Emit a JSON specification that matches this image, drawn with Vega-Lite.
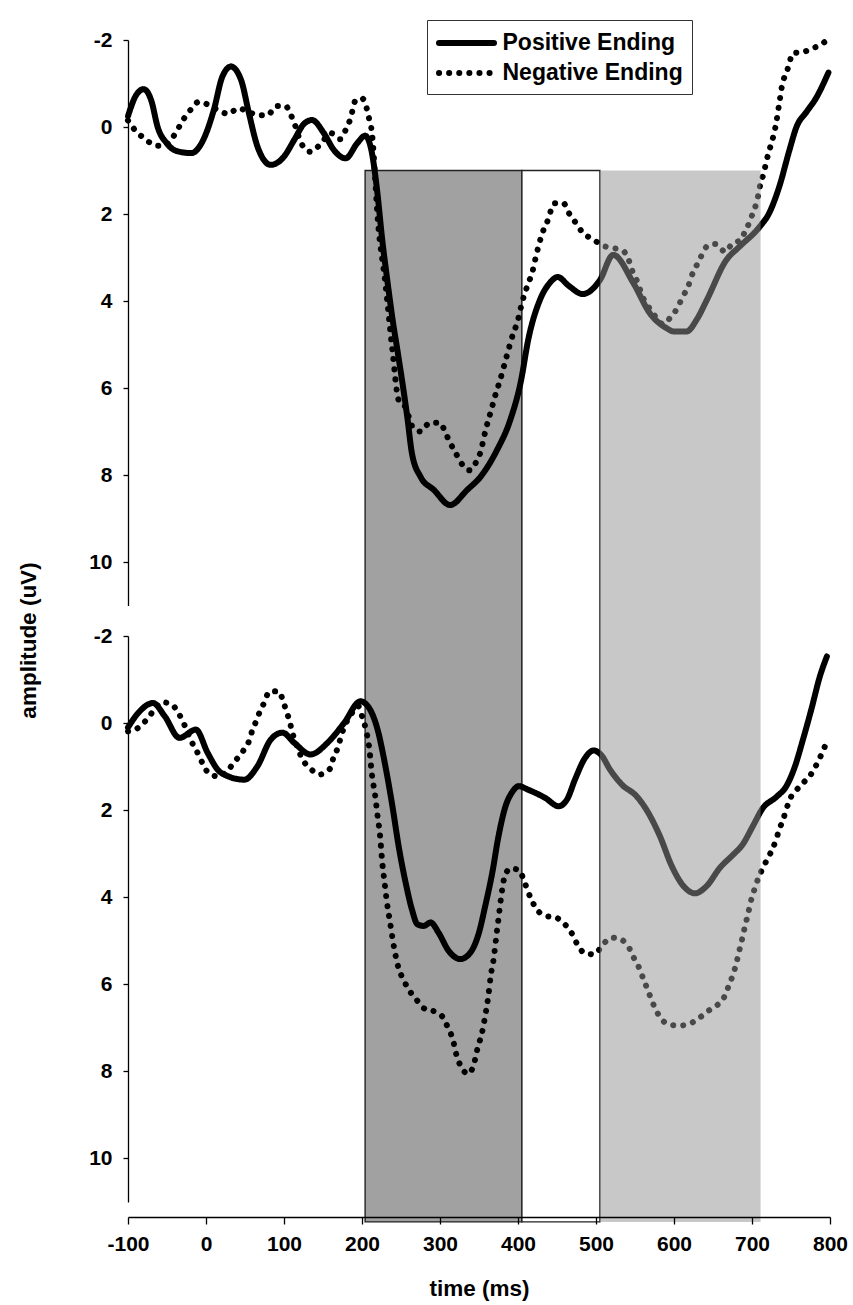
{
"$schema": "https://vega.github.io/schema/vega-lite/v6.json",
"width": 702,
"height": 1177,
"autosize": {"type": "none"},
"padding": {"left": 128, "top": 40, "right": 23, "bottom": 88},
"background": "white",
"config": {
  "view": {"stroke": null},
  "font": "Liberation Sans",
  "axis": {"domainColor": "black", "tickColor": "black", "labelColor": "black", "titleColor": "black", "labelFont": "Liberation Sans", "labelFontWeight": "bold", "labelFontSize": 21, "titleFont": "Liberation Sans", "titleFontWeight": "bold", "titleFontSize": 22.5, "grid": false, "domainWidth": 1.3, "tickWidth": 1.3, "labelExpr": "'' + datum.value"}
},
"datasets": {
  "windows": [
    {"window": "early", "start": 204, "end": 405, "top": 1, "bottom": 25.17},
    {"window": "middle", "start": 405, "end": 505, "top": 1, "bottom": 25.17},
    {"window": "late", "start": 505, "end": 711, "top": 1, "bottom": 25.17}
  ],
  "erp": [
    {"panel":"top","series":"Positive Ending","t":-100,"v":-0.25},
    {"panel":"top","series":"Positive Ending","t":-90,"v":-0.72},
    {"panel":"top","series":"Positive Ending","t":-80,"v":-0.87},
    {"panel":"top","series":"Positive Ending","t":-70,"v":-0.6},
    {"panel":"top","series":"Positive Ending","t":-62,"v":0.0},
    {"panel":"top","series":"Positive Ending","t":-50,"v":0.38},
    {"panel":"top","series":"Positive Ending","t":-38,"v":0.55},
    {"panel":"top","series":"Positive Ending","t":-19,"v":0.6},
    {"panel":"top","series":"Positive Ending","t":-5,"v":0.35},
    {"panel":"top","series":"Positive Ending","t":10,"v":-0.39},
    {"panel":"top","series":"Positive Ending","t":21,"v":-1.16},
    {"panel":"top","series":"Positive Ending","t":32,"v":-1.39},
    {"panel":"top","series":"Positive Ending","t":45,"v":-1.08},
    {"panel":"top","series":"Positive Ending","t":55,"v":-0.32},
    {"panel":"top","series":"Positive Ending","t":66,"v":0.45},
    {"panel":"top","series":"Positive Ending","t":83,"v":0.87},
    {"panel":"top","series":"Positive Ending","t":100,"v":0.68},
    {"panel":"top","series":"Positive Ending","t":113,"v":0.3},
    {"panel":"top","series":"Positive Ending","t":126,"v":-0.08},
    {"panel":"top","series":"Positive Ending","t":136,"v":-0.16},
    {"panel":"top","series":"Positive Ending","t":151,"v":0.14},
    {"panel":"top","series":"Positive Ending","t":164,"v":0.53},
    {"panel":"top","series":"Positive Ending","t":179,"v":0.72},
    {"panel":"top","series":"Positive Ending","t":194,"v":0.37},
    {"panel":"top","series":"Positive Ending","t":204,"v":0.2},
    {"panel":"top","series":"Positive Ending","t":212,"v":0.53},
    {"panel":"top","series":"Positive Ending","t":219,"v":1.4},
    {"panel":"top","series":"Positive Ending","t":226,"v":2.6},
    {"panel":"top","series":"Positive Ending","t":233,"v":3.6},
    {"panel":"top","series":"Positive Ending","t":239,"v":4.4},
    {"panel":"top","series":"Positive Ending","t":246,"v":5.2},
    {"panel":"top","series":"Positive Ending","t":252,"v":5.9},
    {"panel":"top","series":"Positive Ending","t":258,"v":6.66},
    {"panel":"top","series":"Positive Ending","t":264,"v":7.5},
    {"panel":"top","series":"Positive Ending","t":275,"v":8.04},
    {"panel":"top","series":"Positive Ending","t":292,"v":8.34},
    {"panel":"top","series":"Positive Ending","t":313,"v":8.69},
    {"panel":"top","series":"Positive Ending","t":335,"v":8.34},
    {"panel":"top","series":"Positive Ending","t":352,"v":8.04},
    {"panel":"top","series":"Positive Ending","t":373,"v":7.43},
    {"panel":"top","series":"Positive Ending","t":390,"v":6.74},
    {"panel":"top","series":"Positive Ending","t":404,"v":5.82},
    {"panel":"top","series":"Positive Ending","t":413,"v":4.9},
    {"panel":"top","series":"Positive Ending","t":428,"v":3.98},
    {"panel":"top","series":"Positive Ending","t":440,"v":3.6},
    {"panel":"top","series":"Positive Ending","t":451,"v":3.45},
    {"panel":"top","series":"Positive Ending","t":465,"v":3.65},
    {"panel":"top","series":"Positive Ending","t":483,"v":3.84},
    {"panel":"top","series":"Positive Ending","t":505,"v":3.52},
    {"panel":"top","series":"Positive Ending","t":522,"v":2.94},
    {"panel":"top","series":"Positive Ending","t":548,"v":3.59},
    {"panel":"top","series":"Positive Ending","t":569,"v":4.28},
    {"panel":"top","series":"Positive Ending","t":590,"v":4.62},
    {"panel":"top","series":"Positive Ending","t":600,"v":4.7},
    {"panel":"top","series":"Positive Ending","t":616,"v":4.7},
    {"panel":"top","series":"Positive Ending","t":630,"v":4.4},
    {"panel":"top","series":"Positive Ending","t":642,"v":3.98},
    {"panel":"top","series":"Positive Ending","t":667,"v":3.06},
    {"panel":"top","series":"Positive Ending","t":684,"v":2.75},
    {"panel":"top","series":"Positive Ending","t":710,"v":2.29},
    {"panel":"top","series":"Positive Ending","t":722,"v":1.98},
    {"panel":"top","series":"Positive Ending","t":735,"v":1.37},
    {"panel":"top","series":"Positive Ending","t":748,"v":0.53},
    {"panel":"top","series":"Positive Ending","t":757,"v":0.0},
    {"panel":"top","series":"Positive Ending","t":770,"v":-0.35},
    {"panel":"top","series":"Positive Ending","t":782,"v":-0.66},
    {"panel":"top","series":"Positive Ending","t":798,"v":-1.25},

    {"panel":"top","series":"Negative Ending","t":-100,"v":-0.15},
    {"panel":"top","series":"Negative Ending","t":-92,"v":0.05},
    {"panel":"top","series":"Negative Ending","t":-80,"v":0.25},
    {"panel":"top","series":"Negative Ending","t":-62,"v":0.43},
    {"panel":"top","series":"Negative Ending","t":-54,"v":0.43},
    {"panel":"top","series":"Negative Ending","t":-42,"v":0.22},
    {"panel":"top","series":"Negative Ending","t":-28,"v":-0.2},
    {"panel":"top","series":"Negative Ending","t":-20,"v":-0.39},
    {"panel":"top","series":"Negative Ending","t":-9,"v":-0.58},
    {"panel":"top","series":"Negative Ending","t":4,"v":-0.5},
    {"panel":"top","series":"Negative Ending","t":15,"v":-0.39},
    {"panel":"top","series":"Negative Ending","t":29,"v":-0.3},
    {"panel":"top","series":"Negative Ending","t":41,"v":-0.43},
    {"panel":"top","series":"Negative Ending","t":55,"v":-0.35},
    {"panel":"top","series":"Negative Ending","t":66,"v":-0.27},
    {"panel":"top","series":"Negative Ending","t":79,"v":-0.27},
    {"panel":"top","series":"Negative Ending","t":90,"v":-0.48},
    {"panel":"top","series":"Negative Ending","t":102,"v":-0.48},
    {"panel":"top","series":"Negative Ending","t":109,"v":-0.27},
    {"panel":"top","series":"Negative Ending","t":114,"v":-0.05},
    {"panel":"top","series":"Negative Ending","t":122,"v":0.37},
    {"panel":"top","series":"Negative Ending","t":134,"v":0.57},
    {"panel":"top","series":"Negative Ending","t":147,"v":0.39},
    {"panel":"top","series":"Negative Ending","t":160,"v":0.14},
    {"panel":"top","series":"Negative Ending","t":172,"v":0.28},
    {"panel":"top","series":"Negative Ending","t":179,"v":0.07},
    {"panel":"top","series":"Negative Ending","t":185,"v":-0.18},
    {"panel":"top","series":"Negative Ending","t":192,"v":-0.62},
    {"panel":"top","series":"Negative Ending","t":200,"v":-0.66},
    {"panel":"top","series":"Negative Ending","t":206,"v":-0.43},
    {"panel":"top","series":"Negative Ending","t":209,"v":-0.2},
    {"panel":"top","series":"Negative Ending","t":212,"v":0.03},
    {"panel":"top","series":"Negative Ending","t":221,"v":2.29},
    {"panel":"top","series":"Negative Ending","t":230,"v":3.6},
    {"panel":"top","series":"Negative Ending","t":239,"v":5.13},
    {"panel":"top","series":"Negative Ending","t":247,"v":6.28},
    {"panel":"top","series":"Negative Ending","t":256,"v":6.45},
    {"panel":"top","series":"Negative Ending","t":260,"v":6.66},
    {"panel":"top","series":"Negative Ending","t":265,"v":6.9},
    {"panel":"top","series":"Negative Ending","t":275,"v":7.0},
    {"panel":"top","series":"Negative Ending","t":287,"v":6.8},
    {"panel":"top","series":"Negative Ending","t":300,"v":6.8},
    {"panel":"top","series":"Negative Ending","t":307,"v":7.03},
    {"panel":"top","series":"Negative Ending","t":313,"v":7.26},
    {"panel":"top","series":"Negative Ending","t":320,"v":7.49},
    {"panel":"top","series":"Negative Ending","t":327,"v":7.72},
    {"panel":"top","series":"Negative Ending","t":338,"v":7.89},
    {"panel":"top","series":"Negative Ending","t":347,"v":7.68},
    {"panel":"top","series":"Negative Ending","t":352,"v":7.47},
    {"panel":"top","series":"Negative Ending","t":358,"v":7.0},
    {"panel":"top","series":"Negative Ending","t":365,"v":6.55},
    {"panel":"top","series":"Negative Ending","t":372,"v":6.1},
    {"panel":"top","series":"Negative Ending","t":376,"v":5.88},
    {"panel":"top","series":"Negative Ending","t":385,"v":5.3},
    {"panel":"top","series":"Negative Ending","t":394,"v":4.74},
    {"panel":"top","series":"Negative Ending","t":399,"v":4.5},
    {"panel":"top","series":"Negative Ending","t":405,"v":4.05},
    {"panel":"top","series":"Negative Ending","t":413,"v":3.6},
    {"panel":"top","series":"Negative Ending","t":418,"v":3.36},
    {"panel":"top","series":"Negative Ending","t":424,"v":2.9},
    {"panel":"top","series":"Negative Ending","t":432,"v":2.4},
    {"panel":"top","series":"Negative Ending","t":437,"v":2.2},
    {"panel":"top","series":"Negative Ending","t":447,"v":1.75},
    {"panel":"top","series":"Negative Ending","t":458,"v":1.75},
    {"panel":"top","series":"Negative Ending","t":466,"v":2.0},
    {"panel":"top","series":"Negative Ending","t":474,"v":2.2},
    {"panel":"top","series":"Negative Ending","t":483,"v":2.43},
    {"panel":"top","series":"Negative Ending","t":496,"v":2.58},
    {"panel":"top","series":"Negative Ending","t":509,"v":2.73},
    {"panel":"top","series":"Negative Ending","t":522,"v":2.78},
    {"panel":"top","series":"Negative Ending","t":535,"v":2.85},
    {"panel":"top","series":"Negative Ending","t":542,"v":3.06},
    {"panel":"top","series":"Negative Ending","t":547,"v":3.33},
    {"panel":"top","series":"Negative Ending","t":554,"v":3.6},
    {"panel":"top","series":"Negative Ending","t":558,"v":3.82},
    {"panel":"top","series":"Negative Ending","t":572,"v":4.25},
    {"panel":"top","series":"Negative Ending","t":586,"v":4.53},
    {"panel":"top","series":"Negative Ending","t":597,"v":4.34},
    {"panel":"top","series":"Negative Ending","t":605,"v":4.14},
    {"panel":"top","series":"Negative Ending","t":611,"v":3.9},
    {"panel":"top","series":"Negative Ending","t":618,"v":3.68},
    {"panel":"top","series":"Negative Ending","t":622,"v":3.45},
    {"panel":"top","series":"Negative Ending","t":628,"v":3.22},
    {"panel":"top","series":"Negative Ending","t":634,"v":3.0},
    {"panel":"top","series":"Negative Ending","t":642,"v":2.75},
    {"panel":"top","series":"Negative Ending","t":653,"v":2.69},
    {"panel":"top","series":"Negative Ending","t":666,"v":2.87},
    {"panel":"top","series":"Negative Ending","t":675,"v":2.67},
    {"panel":"top","series":"Negative Ending","t":686,"v":2.6},
    {"panel":"top","series":"Negative Ending","t":691,"v":2.4},
    {"panel":"top","series":"Negative Ending","t":697,"v":2.18},
    {"panel":"top","series":"Negative Ending","t":701,"v":1.98},
    {"panel":"top","series":"Negative Ending","t":706,"v":1.73},
    {"panel":"top","series":"Negative Ending","t":711,"v":1.3},
    {"panel":"top","series":"Negative Ending","t":715,"v":1.06},
    {"panel":"top","series":"Negative Ending","t":718,"v":0.83},
    {"panel":"top","series":"Negative Ending","t":721,"v":0.6},
    {"panel":"top","series":"Negative Ending","t":725,"v":0.37},
    {"panel":"top","series":"Negative Ending","t":731,"v":-0.09},
    {"panel":"top","series":"Negative Ending","t":735,"v":-0.55},
    {"panel":"top","series":"Negative Ending","t":739,"v":-1.0},
    {"panel":"top","series":"Negative Ending","t":744,"v":-1.24},
    {"panel":"top","series":"Negative Ending","t":748,"v":-1.47},
    {"panel":"top","series":"Negative Ending","t":752,"v":-1.7},
    {"panel":"top","series":"Negative Ending","t":765,"v":-1.72},
    {"panel":"top","series":"Negative Ending","t":776,"v":-1.8},
    {"panel":"top","series":"Negative Ending","t":787,"v":-1.88},
    {"panel":"top","series":"Negative Ending","t":795,"v":-1.98},

    {"panel":"bottom","series":"Positive Ending","t":-100,"v":0.1},
    {"panel":"bottom","series":"Positive Ending","t":-87,"v":-0.23},
    {"panel":"bottom","series":"Positive Ending","t":-68,"v":-0.46},
    {"panel":"bottom","series":"Positive Ending","t":-53,"v":-0.16},
    {"panel":"bottom","series":"Positive Ending","t":-34,"v":0.34},
    {"panel":"bottom","series":"Positive Ending","t":-13,"v":0.15},
    {"panel":"bottom","series":"Positive Ending","t":2,"v":0.68},
    {"panel":"bottom","series":"Positive Ending","t":15,"v":1.07},
    {"panel":"bottom","series":"Positive Ending","t":28,"v":1.22},
    {"panel":"bottom","series":"Positive Ending","t":49,"v":1.3},
    {"panel":"bottom","series":"Positive Ending","t":66,"v":0.99},
    {"panel":"bottom","series":"Positive Ending","t":83,"v":0.38},
    {"panel":"bottom","series":"Positive Ending","t":98,"v":0.22},
    {"panel":"bottom","series":"Positive Ending","t":113,"v":0.45},
    {"panel":"bottom","series":"Positive Ending","t":134,"v":0.72},
    {"panel":"bottom","series":"Positive Ending","t":156,"v":0.45},
    {"panel":"bottom","series":"Positive Ending","t":177,"v":0.0},
    {"panel":"bottom","series":"Positive Ending","t":198,"v":-0.5},
    {"panel":"bottom","series":"Positive Ending","t":209,"v":-0.35},
    {"panel":"bottom","series":"Positive Ending","t":220,"v":0.15},
    {"panel":"bottom","series":"Positive Ending","t":230,"v":0.99},
    {"panel":"bottom","series":"Positive Ending","t":239,"v":1.91},
    {"panel":"bottom","series":"Positive Ending","t":247,"v":2.83},
    {"panel":"bottom","series":"Positive Ending","t":256,"v":3.67},
    {"panel":"bottom","series":"Positive Ending","t":264,"v":4.28},
    {"panel":"bottom","series":"Positive Ending","t":271,"v":4.62},
    {"panel":"bottom","series":"Positive Ending","t":279,"v":4.66},
    {"panel":"bottom","series":"Positive Ending","t":288,"v":4.58},
    {"panel":"bottom","series":"Positive Ending","t":298,"v":4.81},
    {"panel":"bottom","series":"Positive Ending","t":311,"v":5.23},
    {"panel":"bottom","series":"Positive Ending","t":326,"v":5.42},
    {"panel":"bottom","series":"Positive Ending","t":339,"v":5.27},
    {"panel":"bottom","series":"Positive Ending","t":350,"v":4.81},
    {"panel":"bottom","series":"Positive Ending","t":358,"v":4.2},
    {"panel":"bottom","series":"Positive Ending","t":367,"v":3.44},
    {"panel":"bottom","series":"Positive Ending","t":375,"v":2.6},
    {"panel":"bottom","series":"Positive Ending","t":384,"v":1.91},
    {"panel":"bottom","series":"Positive Ending","t":392,"v":1.6},
    {"panel":"bottom","series":"Positive Ending","t":401,"v":1.45},
    {"panel":"bottom","series":"Positive Ending","t":413,"v":1.53},
    {"panel":"bottom","series":"Positive Ending","t":435,"v":1.72},
    {"panel":"bottom","series":"Positive Ending","t":452,"v":1.91},
    {"panel":"bottom","series":"Positive Ending","t":463,"v":1.75},
    {"panel":"bottom","series":"Positive Ending","t":473,"v":1.3},
    {"panel":"bottom","series":"Positive Ending","t":486,"v":0.8},
    {"panel":"bottom","series":"Positive Ending","t":497,"v":0.63},
    {"panel":"bottom","series":"Positive Ending","t":507,"v":0.74},
    {"panel":"bottom","series":"Positive Ending","t":518,"v":1.07},
    {"panel":"bottom","series":"Positive Ending","t":533,"v":1.41},
    {"panel":"bottom","series":"Positive Ending","t":552,"v":1.68},
    {"panel":"bottom","series":"Positive Ending","t":567,"v":2.06},
    {"panel":"bottom","series":"Positive Ending","t":582,"v":2.6},
    {"panel":"bottom","series":"Positive Ending","t":597,"v":3.28},
    {"panel":"bottom","series":"Positive Ending","t":612,"v":3.74},
    {"panel":"bottom","series":"Positive Ending","t":627,"v":3.91},
    {"panel":"bottom","series":"Positive Ending","t":642,"v":3.74},
    {"panel":"bottom","series":"Positive Ending","t":659,"v":3.32},
    {"panel":"bottom","series":"Positive Ending","t":676,"v":3.02},
    {"panel":"bottom","series":"Positive Ending","t":688,"v":2.79},
    {"panel":"bottom","series":"Positive Ending","t":701,"v":2.37},
    {"panel":"bottom","series":"Positive Ending","t":714,"v":1.95},
    {"panel":"bottom","series":"Positive Ending","t":731,"v":1.7},
    {"panel":"bottom","series":"Positive Ending","t":744,"v":1.45},
    {"panel":"bottom","series":"Positive Ending","t":755,"v":1.0},
    {"panel":"bottom","series":"Positive Ending","t":765,"v":0.4},
    {"panel":"bottom","series":"Positive Ending","t":776,"v":-0.31},
    {"panel":"bottom","series":"Positive Ending","t":787,"v":-1.07},
    {"panel":"bottom","series":"Positive Ending","t":796,"v":-1.53},

    {"panel":"bottom","series":"Negative Ending","t":-100,"v":0.19},
    {"panel":"bottom","series":"Negative Ending","t":-87,"v":0.11},
    {"panel":"bottom","series":"Negative Ending","t":-77,"v":-0.06},
    {"panel":"bottom","series":"Negative Ending","t":-66,"v":-0.31},
    {"panel":"bottom","series":"Negative Ending","t":-57,"v":-0.48},
    {"panel":"bottom","series":"Negative Ending","t":-45,"v":-0.44},
    {"panel":"bottom","series":"Negative Ending","t":-35,"v":-0.22},
    {"panel":"bottom","series":"Negative Ending","t":-28,"v":0.03},
    {"panel":"bottom","series":"Negative Ending","t":-17,"v":0.48},
    {"panel":"bottom","series":"Negative Ending","t":-10,"v":0.71},
    {"panel":"bottom","series":"Negative Ending","t":-4,"v":0.94},
    {"panel":"bottom","series":"Negative Ending","t":4,"v":1.16},
    {"panel":"bottom","series":"Negative Ending","t":17,"v":1.23},
    {"panel":"bottom","series":"Negative Ending","t":28,"v":1.08},
    {"panel":"bottom","series":"Negative Ending","t":38,"v":0.86},
    {"panel":"bottom","series":"Negative Ending","t":48,"v":0.63},
    {"panel":"bottom","series":"Negative Ending","t":55,"v":0.42},
    {"panel":"bottom","series":"Negative Ending","t":59,"v":0.19},
    {"panel":"bottom","series":"Negative Ending","t":64,"v":-0.03},
    {"panel":"bottom","series":"Negative Ending","t":69,"v":-0.26},
    {"panel":"bottom","series":"Negative Ending","t":75,"v":-0.48},
    {"panel":"bottom","series":"Negative Ending","t":81,"v":-0.72},
    {"panel":"bottom","series":"Negative Ending","t":93,"v":-0.73},
    {"panel":"bottom","series":"Negative Ending","t":99,"v":-0.5},
    {"panel":"bottom","series":"Negative Ending","t":103,"v":-0.27},
    {"panel":"bottom","series":"Negative Ending","t":107,"v":-0.06},
    {"panel":"bottom","series":"Negative Ending","t":110,"v":0.17},
    {"panel":"bottom","series":"Negative Ending","t":117,"v":0.55},
    {"panel":"bottom","series":"Negative Ending","t":124,"v":0.84},
    {"panel":"bottom","series":"Negative Ending","t":134,"v":1.05},
    {"panel":"bottom","series":"Negative Ending","t":146,"v":1.18},
    {"panel":"bottom","series":"Negative Ending","t":159,"v":1.05},
    {"panel":"bottom","series":"Negative Ending","t":163,"v":0.82},
    {"panel":"bottom","series":"Negative Ending","t":168,"v":0.61},
    {"panel":"bottom","series":"Negative Ending","t":172,"v":0.38},
    {"panel":"bottom","series":"Negative Ending","t":176,"v":0.15},
    {"panel":"bottom","series":"Negative Ending","t":186,"v":-0.2},
    {"panel":"bottom","series":"Negative Ending","t":195,"v":-0.39},
    {"panel":"bottom","series":"Negative Ending","t":200,"v":-0.16},
    {"panel":"bottom","series":"Negative Ending","t":205,"v":0.15},
    {"panel":"bottom","series":"Negative Ending","t":209,"v":0.53},
    {"panel":"bottom","series":"Negative Ending","t":213,"v":1.22},
    {"panel":"bottom","series":"Negative Ending","t":217,"v":1.68},
    {"panel":"bottom","series":"Negative Ending","t":220,"v":2.14},
    {"panel":"bottom","series":"Negative Ending","t":223,"v":2.56},
    {"panel":"bottom","series":"Negative Ending","t":226,"v":3.21},
    {"panel":"bottom","series":"Negative Ending","t":229,"v":3.67},
    {"panel":"bottom","series":"Negative Ending","t":232,"v":4.12},
    {"panel":"bottom","series":"Negative Ending","t":236,"v":4.58},
    {"panel":"bottom","series":"Negative Ending","t":240,"v":5.04},
    {"panel":"bottom","series":"Negative Ending","t":245,"v":5.5},
    {"panel":"bottom","series":"Negative Ending","t":255,"v":5.96},
    {"panel":"bottom","series":"Negative Ending","t":271,"v":6.38},
    {"panel":"bottom","series":"Negative Ending","t":281,"v":6.57},
    {"panel":"bottom","series":"Negative Ending","t":294,"v":6.63},
    {"panel":"bottom","series":"Negative Ending","t":305,"v":6.79},
    {"panel":"bottom","series":"Negative Ending","t":310,"v":6.99},
    {"panel":"bottom","series":"Negative Ending","t":316,"v":7.24},
    {"panel":"bottom","series":"Negative Ending","t":322,"v":7.68},
    {"panel":"bottom","series":"Negative Ending","t":327,"v":7.89},
    {"panel":"bottom","series":"Negative Ending","t":336,"v":8.06},
    {"panel":"bottom","series":"Negative Ending","t":343,"v":7.86},
    {"panel":"bottom","series":"Negative Ending","t":349,"v":7.41},
    {"panel":"bottom","series":"Negative Ending","t":353,"v":7.18},
    {"panel":"bottom","series":"Negative Ending","t":358,"v":6.72},
    {"panel":"bottom","series":"Negative Ending","t":362,"v":6.27},
    {"panel":"bottom","series":"Negative Ending","t":365,"v":5.81},
    {"panel":"bottom","series":"Negative Ending","t":369,"v":5.39},
    {"panel":"bottom","series":"Negative Ending","t":372,"v":4.93},
    {"panel":"bottom","series":"Negative Ending","t":375,"v":4.49},
    {"panel":"bottom","series":"Negative Ending","t":378,"v":4.05},
    {"panel":"bottom","series":"Negative Ending","t":382,"v":3.59},
    {"panel":"bottom","series":"Negative Ending","t":390,"v":3.34},
    {"panel":"bottom","series":"Negative Ending","t":402,"v":3.38},
    {"panel":"bottom","series":"Negative Ending","t":407,"v":3.59},
    {"panel":"bottom","series":"Negative Ending","t":417,"v":4.05},
    {"panel":"bottom","series":"Negative Ending","t":424,"v":4.28},
    {"panel":"bottom","series":"Negative Ending","t":436,"v":4.43},
    {"panel":"bottom","series":"Negative Ending","t":449,"v":4.47},
    {"panel":"bottom","series":"Negative Ending","t":460,"v":4.62},
    {"panel":"bottom","series":"Negative Ending","t":469,"v":4.83},
    {"panel":"bottom","series":"Negative Ending","t":476,"v":5.08},
    {"panel":"bottom","series":"Negative Ending","t":486,"v":5.29},
    {"panel":"bottom","series":"Negative Ending","t":498,"v":5.31},
    {"panel":"bottom","series":"Negative Ending","t":509,"v":5.08},
    {"panel":"bottom","series":"Negative Ending","t":520,"v":4.93},
    {"panel":"bottom","series":"Negative Ending","t":532,"v":4.97},
    {"panel":"bottom","series":"Negative Ending","t":543,"v":5.18},
    {"panel":"bottom","series":"Negative Ending","t":549,"v":5.41},
    {"panel":"bottom","series":"Negative Ending","t":555,"v":5.61},
    {"panel":"bottom","series":"Negative Ending","t":560,"v":5.84},
    {"panel":"bottom","series":"Negative Ending","t":565,"v":6.07},
    {"panel":"bottom","series":"Negative Ending","t":570,"v":6.3},
    {"panel":"bottom","series":"Negative Ending","t":575,"v":6.52},
    {"panel":"bottom","series":"Negative Ending","t":582,"v":6.75},
    {"panel":"bottom","series":"Negative Ending","t":593,"v":6.92},
    {"panel":"bottom","series":"Negative Ending","t":606,"v":6.95},
    {"panel":"bottom","series":"Negative Ending","t":618,"v":6.92},
    {"panel":"bottom","series":"Negative Ending","t":631,"v":6.79},
    {"panel":"bottom","series":"Negative Ending","t":644,"v":6.61},
    {"panel":"bottom","series":"Negative Ending","t":656,"v":6.47},
    {"panel":"bottom","series":"Negative Ending","t":665,"v":6.27},
    {"panel":"bottom","series":"Negative Ending","t":670,"v":6.04},
    {"panel":"bottom","series":"Negative Ending","t":675,"v":5.81},
    {"panel":"bottom","series":"Negative Ending","t":679,"v":5.58},
    {"panel":"bottom","series":"Negative Ending","t":682,"v":5.36},
    {"panel":"bottom","series":"Negative Ending","t":685,"v":5.13},
    {"panel":"bottom","series":"Negative Ending","t":688,"v":4.91},
    {"panel":"bottom","series":"Negative Ending","t":691,"v":4.67},
    {"panel":"bottom","series":"Negative Ending","t":694,"v":4.45},
    {"panel":"bottom","series":"Negative Ending","t":697,"v":4.22},
    {"panel":"bottom","series":"Negative Ending","t":700,"v":3.99},
    {"panel":"bottom","series":"Negative Ending","t":704,"v":3.78},
    {"panel":"bottom","series":"Negative Ending","t":708,"v":3.56},
    {"panel":"bottom","series":"Negative Ending","t":714,"v":3.33},
    {"panel":"bottom","series":"Negative Ending","t":720,"v":3.11},
    {"panel":"bottom","series":"Negative Ending","t":726,"v":2.9},
    {"panel":"bottom","series":"Negative Ending","t":731,"v":2.67},
    {"panel":"bottom","series":"Negative Ending","t":735,"v":2.44},
    {"panel":"bottom","series":"Negative Ending","t":740,"v":2.21},
    {"panel":"bottom","series":"Negative Ending","t":744,"v":1.98},
    {"panel":"bottom","series":"Negative Ending","t":748,"v":1.77},
    {"panel":"bottom","series":"Negative Ending","t":757,"v":1.54},
    {"panel":"bottom","series":"Negative Ending","t":767,"v":1.35},
    {"panel":"bottom","series":"Negative Ending","t":777,"v":1.14},
    {"panel":"bottom","series":"Negative Ending","t":784,"v":0.91},
    {"panel":"bottom","series":"Negative Ending","t":790,"v":0.68},
    {"panel":"bottom","series":"Negative Ending","t":795,"v":0.47}
  ]
},
"layer": [
  {
    "data": {"name": "windows"},
    "transform": [{"filter": "datum.window != 'late'"}],
    "mark": {"type": "rect", "stroke": "#222222", "strokeWidth": 1.4},
    "encoding": {
      "x": {"field": "start", "type": "quantitative", "scale": {"domain": [-100, 800], "nice": false, "zero": false},
            "axis": {"values": [-100, 0, 100, 200, 300, 400, 500, 600, 700, 800], "tickSize": 7, "labelPadding": 9, "labelFlush": false, "labelOverlap": false, "title": "time (ms)", "titleY": 71, "titleBaseline": "middle", "zindex": 1}},
      "x2": {"field": "end"},
      "y": {"field": "top", "type": "quantitative", "scale": {"domain": [-2, 11], "range": [0, 565.5], "nice": false, "zero": false}, "axis": null},
      "y2": {"field": "bottom"},
      "fill": {"field": "window", "type": "nominal", "scale": {"domain": ["early", "middle"], "range": ["#a1a1a1", "#ffffff"]}, "legend": null}
    }
  },
  {
    "data": {"name": "erp"},
    "transform": [{"filter": "datum.panel == 'top'"}],
    "mark": {"type": "line", "color": "black", "strokeWidth": 6, "strokeCap": "round", "interpolate": "monotone"},
    "encoding": {
      "x": {"field": "t", "type": "quantitative", "scale": {"domain": [-100, 800], "nice": false, "zero": false},
            "axis": {"values": [-100, 0, 100, 200, 300, 400, 500, 600, 700, 800], "tickSize": 7, "labelPadding": 9, "labelFlush": false, "labelOverlap": false, "title": "time (ms)", "titleY": 71, "titleBaseline": "middle", "zindex": 1}},
      "y": {"field": "v", "type": "quantitative", "scale": {"domain": [-2, 11], "range": [0, 565.5], "nice": false, "zero": false},
            "axis": {"orient": "left", "values": [-2, 0, 2, 4, 6, 8, 10], "tickSize": 5, "labelPadding": 11, "title": "amplitude (uV)", "titleX": -100, "titleY": 600, "titleAngle": 270, "titleAlign": "center", "titleBaseline": "middle"}},
      "strokeDash": {"field": "series", "type": "nominal",
        "scale": {"domain": ["Positive Ending", "Negative Ending"], "range": [[1, 0], [0.1, 10]]},
        "legend": {"orient": "none", "legendX": 299, "legendY": -20, "title": null, "strokeColor": "#333333", "fillColor": "white", "padding": 9, "symbolType": "M-2.5,0H2.5", "symbolSize": 484, "symbolOffset": 16.5, "symbolStrokeWidth": 6, "symbolStrokeColor": "black", "symbolFillColor": "transparent", "labelFont": "Liberation Sans", "labelFontWeight": "bold", "labelFontSize": 23, "labelColor": "black", "labelOffset": 22, "labelLimit": 400, "rowPadding": 4,
          "encode": {"symbols": {"update": {"strokeCap": {"value": "round"}}}}}
      }
    }
  },
  {
    "data": {"name": "erp"},
    "transform": [{"filter": "datum.panel == 'bottom'"}],
    "mark": {"type": "line", "color": "black", "strokeWidth": 6, "strokeCap": "round", "interpolate": "monotone"},
    "encoding": {
      "x": {"field": "t", "type": "quantitative", "scale": {"domain": [-100, 800], "nice": false, "zero": false},
            "axis": {"values": [-100, 0, 100, 200, 300, 400, 500, 600, 700, 800], "tickSize": 7, "labelPadding": 9, "labelFlush": false, "labelOverlap": false, "title": "time (ms)", "titleY": 71, "titleBaseline": "middle", "zindex": 1}},
      "y": {"field": "v", "type": "quantitative", "scale": {"domain": [-2, 11], "range": [596, 1162], "nice": false, "zero": false},
            "axis": {"orient": "left", "values": [-2, 0, 2, 4, 6, 8, 10], "tickSize": 5, "labelPadding": 11, "title": null}},
      "strokeDash": {"field": "series", "type": "nominal",
        "scale": {"domain": ["Positive Ending", "Negative Ending"], "range": [[1, 0], [0.1, 10]]}}
    }
  },
  {
    "data": {"name": "windows"},
    "transform": [{"filter": "datum.window == 'late'"}],
    "mark": {"type": "rect", "fill": "#929292", "fillOpacity": 0.5, "strokeWidth": 0},
    "encoding": {
      "x": {"field": "start", "type": "quantitative", "scale": {"domain": [-100, 800], "nice": false, "zero": false},
            "axis": {"values": [-100, 0, 100, 200, 300, 400, 500, 600, 700, 800], "tickSize": 7, "labelPadding": 9, "labelFlush": false, "labelOverlap": false, "title": "time (ms)", "titleY": 71, "titleBaseline": "middle", "zindex": 1}},
      "x2": {"field": "end"},
      "y": {"field": "top", "type": "quantitative", "scale": {"domain": [-2, 11], "range": [0, 565.5], "nice": false, "zero": false}, "axis": null},
      "y2": {"field": "bottom"}
    }
  }
],
"resolve": {"scale": {"y": "independent"}, "axis": {"y": "independent"}}
}
